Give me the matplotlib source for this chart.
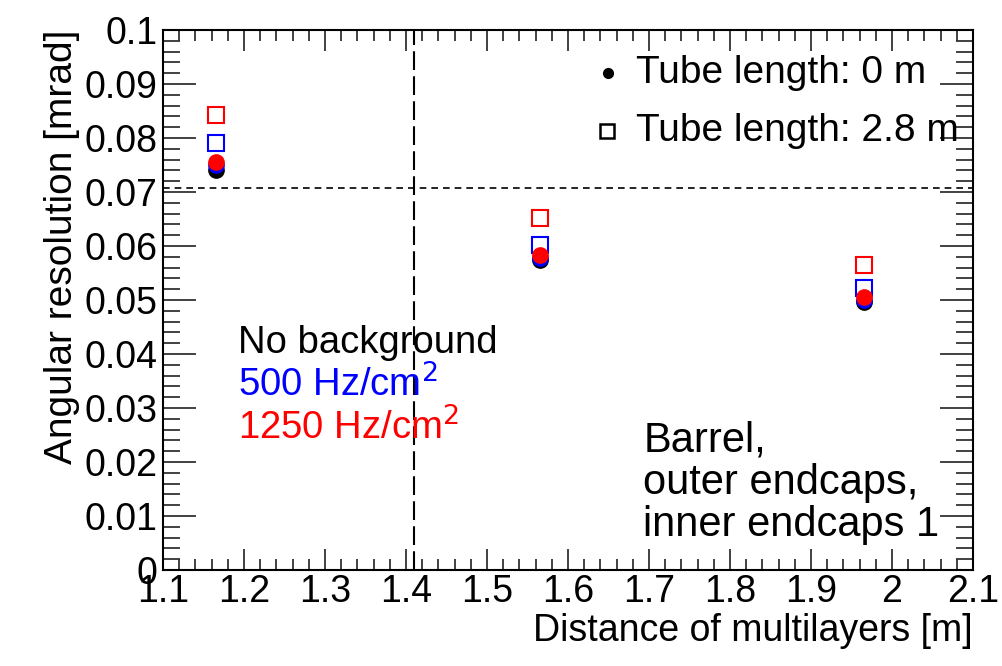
import matplotlib
matplotlib.use("Agg")
import matplotlib.pyplot as plt
from matplotlib.ticker import MultipleLocator, FixedFormatter, FixedLocator

plt.rcParams['font.family'] = ['Liberation Sans', 'DejaVu Sans']

# Distance between multilayers [m]
distance = [1.165, 1.565, 1.965]

# Angular resolution [mrad], tube length 0 m (filled circles)
res_0m_nobkg = [0.0741, 0.0574, 0.0496]
res_0m_500 = [0.0750, 0.0578, 0.0500]
res_0m_1250 = [0.0756, 0.0583, 0.0506]

# Angular resolution [mrad], tube length 2.8 m (open squares)
res_28m_500 = [0.0791, 0.0602, 0.0522]
res_28m_1250 = [0.0843, 0.0652, 0.0565]

# Reference lines
ref_distance = 1.41
ref_resolution = 0.0707

x_ticklabels = ["1.1", "1.2", "1.3", "1.4", "1.5", "1.6", "1.7", "1.8", "1.9", "2", "2.1"]
y_ticklabels = ["0", "0.01", "0.02", "0.03", "0.04", "0.05", "0.06", "0.07", "0.08", "0.09", "0.1"]

fig = plt.figure(figsize=(10.02, 6.66), dpi=100)
ax = fig.add_axes([0.1627, 0.1441, 0.8083, 0.8109])
ax.set_xlim(1.1, 2.1)
ax.set_ylim(0, 0.1)

ax.axvline(ref_distance, color='black', lw=1.5, ls=(0, (9, 3)), zorder=1)
ax.axhline(ref_resolution, color='black', lw=1.2, ls=(0, (4, 3)), zorder=1)

ms = 11
ax.plot(distance, res_0m_nobkg, 'o', color='black', ms=ms, mec='black', zorder=3)
ax.plot(distance, res_0m_500, 'o', color='blue', ms=ms, mec='blue', zorder=4)
ax.plot(distance, res_0m_1250, 'o', color='red', ms=ms, mec='red', zorder=5)
ax.plot(distance, res_28m_500, 's', mfc='none', mec='blue', ms=ms, mew=1.5, zorder=4)
ax.plot(distance, res_28m_1250, 's', mfc='none', mec='red', ms=ms, mew=1.5, zorder=5)

# Ticks on all four sides, pointing inwards
ax.xaxis.set_major_locator(FixedLocator([1.1 + 0.1 * i for i in range(11)]))
ax.xaxis.set_major_formatter(FixedFormatter(x_ticklabels))
ax.xaxis.set_minor_locator(MultipleLocator(0.02))
ax.yaxis.set_major_locator(FixedLocator([0.01 * i for i in range(11)]))
ax.yaxis.set_major_formatter(FixedFormatter(y_ticklabels))
ax.yaxis.set_minor_locator(MultipleLocator(0.002))
ax.tick_params(which='both', direction='in', top=True, right=True, width=1.3, color='#333333')
ax.tick_params(which='major', axis='x', length=15)
ax.tick_params(which='minor', axis='x', length=8)
ax.tick_params(which='major', axis='y', length=24)
ax.tick_params(which='minor', axis='y', length=12)
ax.tick_params(axis='x', labelsize=27, pad=3)
ax.tick_params(axis='y', labelsize=27, pad=4)
for s in ax.spines.values():
    s.set_linewidth(1.5)

ax.set_xlabel("Distance of multilayers [m]", fontsize=27, loc='right', labelpad=2)
ax.set_ylabel("Angular resolution [mrad]", fontsize=28, loc='top', labelpad=3)

# Legend drawn by hand, ROOT style
ax.plot([1.649], [0.0920], 'o', color='black', ms=7, clip_on=False)
ax.plot([1.648], [0.0813], 's', mfc='none', mec='black', ms=10, mew=1.8, clip_on=False)
ax.text(1.684, 0.0920, "Tube length: 0 m", fontsize=28, va='center', ha='left')
ax.text(1.684, 0.0813, "Tube length: 2.8 m", fontsize=28, va='center', ha='left')

ax.text(1.192, 0.0420, "No background", fontsize=27.5, color='black', va='center')
ax.text(1.192, 0.0342, "500 Hz/cm$^2$", fontsize=27.5, color='blue', va='center')
ax.text(1.192, 0.0262, "1250 Hz/cm$^2$", fontsize=27.5, color='red', va='center')

ax.text(1.693, 0.0240, "Barrel,", fontsize=30, va='center')
ax.text(1.693, 0.0162, "outer endcaps,", fontsize=30, va='center')
ax.text(1.693, 0.0084, "inner endcaps 1", fontsize=30, va='center')

fig.savefig("out.png", dpi=100)
